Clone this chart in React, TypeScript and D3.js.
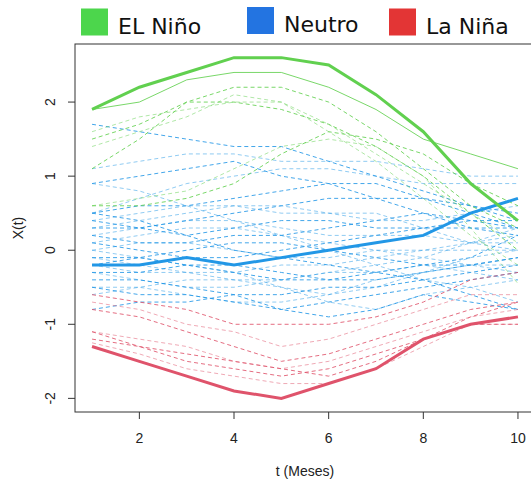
import React from "react";
import * as d3 from "d3";

const months = [1, 2, 3, 4, 5, 6, 7, 8, 9, 10];
const xTicks = [2, 4, 6, 8, 10];
const yTicks = [-2, -1, 0, 1, 2];

const ninoMean = [1.9, 2.2, 2.4, 2.6, 2.6, 2.5, 2.1, 1.6, 0.9, 0.4];
const neutroMean = [-0.2, -0.2, -0.1, -0.2, -0.1, 0.0, 0.1, 0.2, 0.5, 0.7];
const ninaMean = [-1.3, -1.5, -1.7, -1.9, -2.0, -1.8, -1.6, -1.2, -1.0, -0.9];

// first El Niño member is drawn as a thin solid line (as in the reference)
const ninoSolid = [1.9, 2.0, 2.3, 2.4, 2.4, 2.2, 1.9, 1.5, 1.3, 1.1];

const ninoSeries = [
  [1.5, 1.7, 2.0, 2.2, 2.2, 2.0, 1.6, 1.1, 0.6, 0.3],
  [1.4, 1.6, 1.8, 2.1, 2.0, 1.6, 1.2, 0.7, 0.2, -0.2],
  [1.1, 1.5, 2.0, 2.0, 1.9, 1.7, 1.4, 1.0, 0.5, 0.0],
  [0.6, 0.7, 0.8, 1.1, 1.4, 1.5, 1.4, 1.0, 0.3, -0.45],
  [0.6, 0.6, 0.7, 0.9, 1.3, 1.6, 1.5, 1.3, 0.9, 0.6],
  [1.6, 1.8, 1.9, 2.0, 2.0, 1.7, 1.3, 0.9, 0.5, 0.1],
];

const neutroSeries = [
  [1.7, 1.6, 1.5, 1.4, 1.4, 1.2, 1.0, 0.8, 0.6, 0.4],
  [1.1, 1.2, 1.3, 1.3, 1.2, 1.2, 1.2, 1.1, 1.0, 1.0],
  [0.9, 1.0, 1.1, 1.2, 1.0, 0.9, 0.9, 0.7, 0.5, 0.3],
  [0.5, 0.7, 0.9, 1.0, 1.1, 1.1, 1.0, 0.9, 0.9, 0.9],
  [0.5, 0.6, 0.6, 0.7, 0.8, 0.9, 0.7, 0.5, 0.3, 0.2],
  [0.4, 0.5, 0.6, 0.6, 0.5, 0.5, 0.4, 0.4, 0.5, 0.6],
  [0.4, 0.3, 0.4, 0.5, 0.6, 0.7, 0.7, 0.7, 0.6, 0.5],
  [0.3, 0.4, 0.5, 0.6, 0.6, 0.5, 0.5, 0.3, 0.1, 0.0],
  [0.3, 0.3, 0.2, 0.3, 0.4, 0.4, 0.3, 0.3, 0.3, 0.3],
  [0.2, 0.3, 0.4, 0.4, 0.3, 0.2, 0.2, 0.2, 0.1, 0.2],
  [0.2, 0.1, 0.1, 0.2, 0.2, 0.3, 0.4, 0.5, 0.4, 0.3],
  [0.1, 0.2, 0.3, 0.3, 0.2, 0.1, 0.0, -0.1, -0.2, -0.3],
  [0.1, 0.0, -0.1, -0.1, 0.0, 0.1, 0.2, 0.3, 0.4, 0.4],
  [0.0, 0.1, 0.1, 0.0, -0.1, -0.1, 0.0, 0.0, 0.1, 0.1],
  [-0.1, -0.1, 0.0, 0.1, 0.1, 0.0, -0.1, -0.2, -0.2, -0.1],
  [-0.1, -0.2, -0.3, -0.3, -0.2, -0.2, -0.1, 0.0, 0.0, 0.0],
  [-0.2, -0.1, -0.2, -0.3, -0.4, -0.4, -0.3, -0.2, -0.1, 0.2],
  [-0.2, -0.3, -0.3, -0.4, -0.4, -0.3, -0.3, -0.2, -0.3, -0.4],
  [-0.3, -0.3, -0.2, -0.2, -0.3, -0.4, -0.4, -0.3, -0.2, -0.1],
  [-0.3, -0.4, -0.5, -0.5, -0.4, -0.3, -0.2, -0.1, 0.1, 0.3],
  [-0.4, -0.4, -0.5, -0.6, -0.6, -0.5, -0.5, -0.4, -0.3, -0.2],
  [-0.5, -0.5, -0.4, -0.4, -0.5, -0.6, -0.5, -0.3, -0.1, 0.0],
  [-0.5, -0.6, -0.6, -0.7, -0.8, -0.7, -0.6, -0.5, -0.4, -0.3],
  [-0.6, -0.5, -0.6, -0.7, -0.7, -0.6, -0.4, -0.3, -0.2, -0.2],
  [-0.8, -0.7, -0.7, -0.6, -0.8, -0.9, -0.8, -0.6, -0.7, -0.8],
  [0.0, -0.1, -0.2, -0.3, -0.5, -0.7, -0.8, -0.6, -0.5, -0.4],
  [0.5, 0.4, 0.2, 0.0, -0.1, -0.2, -0.3, -0.4, -0.6, -0.8],
  [0.9, 0.8, 0.6, 0.4, 0.2, 0.0, -0.2, -0.4, -0.5, -0.7],
];

const ninaSeries = [
  [-0.6, -0.7, -0.8, -1.0, -1.0, -1.0, -0.9, -0.7, -0.4, -0.3],
  [-0.7, -0.8, -1.0, -1.1, -1.3, -1.2, -1.0, -0.8, -0.6, -0.6],
  [-0.8, -0.9, -1.1, -1.3, -1.5, -1.4, -1.2, -1.0, -0.8, -0.7],
  [-1.1, -1.2, -1.3, -1.5, -1.6, -1.5, -1.3, -1.1, -0.9, -0.8],
  [-1.2, -1.3, -1.5, -1.6, -1.7, -1.6, -1.4, -1.2, -1.0, -1.0],
  [-1.25, -1.4, -1.6, -1.7, -1.8, -1.8, -1.6, -1.3, -1.0, -1.0],
  [-1.1, -1.3, -1.4, -1.5, -1.6, -1.7, -1.5, -1.2, -0.9, -0.7],
];

const legendLabels = ["EL Niño", "Neutro", "La Niña"];

const W = 531;
const H = 479;
const plotLeft = 75;
const plotRight = 535;
const plotTop = 44;
const plotBottom = 412;

const x = d3.scaleLinear().domain([0.64, 10.36]).range([plotLeft, plotRight]);
const y = d3.scaleLinear().domain([-2.184, 2.784]).range([plotBottom, plotTop]);

const line = d3
  .line<number>()
  .x((_, i) => x(months[i]))
  .y((d) => y(d));

const GREEN = "#61D04F";
const BLUE = "#2297E6";
const RED = "#DF536B";

export default function App() {
  const axisFont = "'Liberation Sans', Arial, sans-serif";
  const group = (series: number[][], color: string, key: string) =>
    series.map((s, i) => (
      <path
        key={key + i}
        d={line(s) || ""}
        fill="none"
        stroke={color}
        strokeOpacity={i % 2 === 0 ? 0.85 : 0.5}
        strokeWidth={1}
        strokeDasharray="4,3"
      />
    ));
  return (
    <svg
      width={W}
      height={H}
      style={{ position: "absolute", left: 0, top: 0, background: "#fff" }}
    >
      <defs>
        <clipPath id="plotclip">
          <rect x={plotLeft} y={plotTop} width={plotRight - plotLeft} height={plotBottom - plotTop} />
        </clipPath>
      </defs>
      <g clipPath="url(#plotclip)">
        {group(neutroSeries, BLUE, "b")}
        {group(ninaSeries, RED, "r")}
        {group(ninoSeries, GREEN, "g")}
        <path d={line(ninoSolid) || ""} fill="none" stroke={GREEN} strokeOpacity={0.85} strokeWidth={1} />
        <path d={line(neutroMean) || ""} fill="none" stroke={BLUE} strokeWidth={3} />
        <path d={line(ninaMean) || ""} fill="none" stroke={RED} strokeWidth={3} />
        <path d={line(ninoMean) || ""} fill="none" stroke={GREEN} strokeWidth={3} />
      </g>
      <rect
        x={plotLeft}
        y={plotTop}
        width={plotRight - plotLeft}
        height={plotBottom - plotTop}
        fill="none"
        stroke="#333"
        strokeWidth={1}
      />
      {xTicks.map((t) => (
        <g key={"xt" + t}>
          <line x1={x(t)} x2={x(t)} y1={plotBottom} y2={plotBottom + 7} stroke="#333" />
          <text x={x(t)} y={443} textAnchor="middle" fontFamily={axisFont} fontSize={14} fill="#222">
            {t}
          </text>
        </g>
      ))}
      {yTicks.map((t) => (
        <g key={"yt" + t}>
          <line x1={plotLeft - 7} x2={plotLeft} y1={y(t)} y2={y(t)} stroke="#333" />
          <text
            transform={`translate(55,${y(t)}) rotate(-90)`}
            textAnchor="middle"
            fontFamily={axisFont}
            fontSize={14}
            fill="#222"
          >
            {t}
          </text>
        </g>
      ))}
      <text
        x={(plotLeft + plotRight) / 2}
        y={476}
        textAnchor="middle"
        fontFamily={axisFont}
        fontSize={14}
        fill="#222"
      >
        t (Meses)
      </text>
      <text
        transform={`translate(23,${(plotTop + plotBottom) / 2}) rotate(-90)`}
        textAnchor="middle"
        fontFamily={axisFont}
        fontSize={14}
        fill="#222"
      >
        X(t)
      </text>
      {[
        { c: "#4CD64C", sx: 81, sy: 8.5, tx: 118 },
        { c: "#2374E1", sx: 247, sy: 7, tx: 284 },
        { c: "#E33535", sx: 389, sy: 8.5, tx: 426 },
      ].map((l, i) => (
        <g key={"lg" + i}>
          <rect x={l.sx} y={l.sy} width={27} height={27} fill={l.c} />
          <text
            x={l.tx}
            y={i === 1 ? 32 : 34}
            fontFamily="'DejaVu Sans', sans-serif"
            fontSize={22}
            fill="#111"
          >
            {legendLabels[i]}
          </text>
        </g>
      ))}
    </svg>
  );
}
